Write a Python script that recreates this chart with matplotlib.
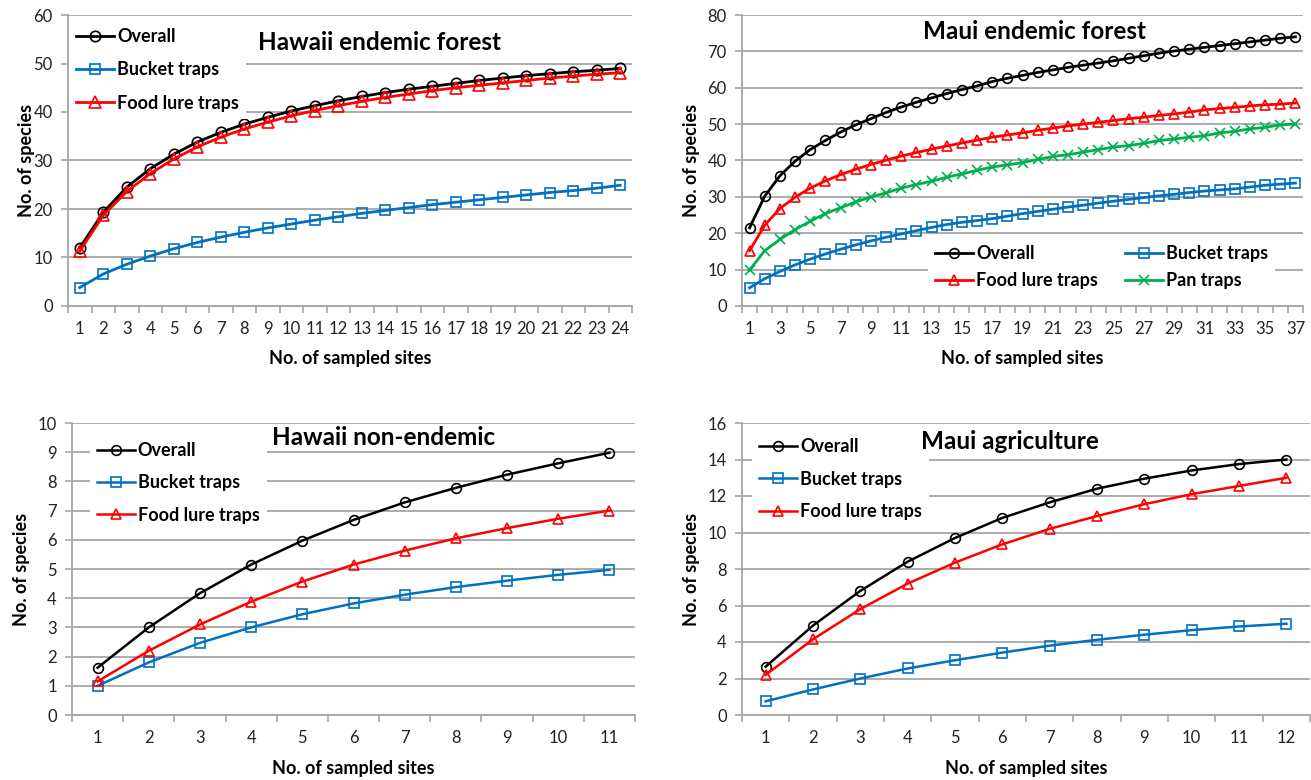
import matplotlib
matplotlib.use("Agg")
import matplotlib.pyplot as plt
import numpy as np

plt.rcParams['font.family'] = ['Lato', 'DejaVu Sans']

# ---------------- data ----------------
# Panel A: Hawaii endemic forest (24 sites)
hef_overall = [12.0, 19.3, 24.5, 28.3, 31.3, 33.8, 35.8, 37.5, 38.9, 40.2, 41.3, 42.3,
               43.2, 44.0, 44.7, 45.3, 45.9, 46.5, 47.0, 47.5, 47.9, 48.3, 48.6, 49.0]
hef_bucket = [3.8, 6.6, 8.6, 10.3, 11.8, 13.1, 14.2, 15.2, 16.1, 16.9, 17.7, 18.4,
              19.1, 19.7, 20.3, 20.9, 21.4, 21.9, 22.4, 22.9, 23.4, 23.8, 24.3, 24.9]
hef_food = [11.3, 18.7, 23.6, 27.3, 30.3, 32.8, 34.8, 36.5, 37.9, 39.2, 40.3, 41.3,
            42.2, 43.0, 43.7, 44.4, 45.0, 45.5, 46.0, 46.5, 47.0, 47.4, 47.8, 48.1]

# Panel B: Maui endemic forest (37 sites)
mef_overall = [21.5, 30.2, 35.8, 39.8, 43.0, 45.5, 47.8, 49.8, 51.5, 53.2, 54.7, 56.0,
               57.2, 58.4, 59.5, 60.5, 61.7, 62.6, 63.4, 64.2, 64.9, 65.6, 66.2, 66.8,
               67.4, 68.1, 68.8, 69.5, 70.1, 70.6, 71.1, 71.6, 72.1, 72.6, 73.1, 73.6, 74.0]
mef_food = [15.2, 22.2, 26.8, 29.9, 32.4, 34.4, 36.1, 37.6, 38.9, 40.1, 41.2, 42.2,
            43.1, 44.0, 44.8, 45.6, 46.4, 47.0, 47.6, 48.3, 48.9, 49.5, 50.0, 50.5,
            51.0, 51.5, 51.9, 52.4, 52.8, 53.3, 53.9, 54.3, 54.6, 55.0, 55.3, 55.5, 55.8]
mef_bucket = [5.0, 7.5, 9.5, 11.3, 12.9, 14.3, 15.6, 16.8, 17.9, 18.9, 19.8, 20.7,
              21.6, 22.4, 23.0, 23.5, 24.0, 24.7, 25.4, 26.0, 26.6, 27.2, 27.7, 28.3,
              28.8, 29.3, 29.8, 30.3, 30.7, 31.2, 31.6, 31.9, 32.2, 32.7, 33.2, 33.5, 33.8]
mef_pan = [9.9, 15.2, 18.3, 21.0, 23.3, 25.4, 27.0, 28.6, 30.0, 31.1, 32.4, 33.4,
           34.3, 35.4, 36.3, 37.3, 38.2, 38.8, 39.4, 40.3, 41.1, 41.6, 42.3, 43.0,
           43.7, 44.1, 44.7, 45.5, 45.9, 46.4, 46.8, 47.6, 48.0, 48.7, 49.1, 49.8, 50.0]

# Panel C: Hawaii non-endemic (11 sites)
hne_overall = [1.62, 3.0, 4.17, 5.15, 5.97, 6.68, 7.28, 7.78, 8.23, 8.62, 8.98]
hne_bucket = [1.0, 1.8, 2.47, 3.0, 3.45, 3.82, 4.12, 4.38, 4.6, 4.8, 4.97]
hne_food = [1.15, 2.2, 3.1, 3.88, 4.57, 5.15, 5.63, 6.05, 6.4, 6.72, 7.0]

# Panel D: Maui agriculture (12 sites)
mag_overall = [2.65, 4.9, 6.8, 8.4, 9.7, 10.8, 11.65, 12.4, 12.95, 13.4, 13.75, 14.0]
mag_bucket = [0.75, 1.4, 2.0, 2.55, 3.0, 3.42, 3.8, 4.12, 4.4, 4.65, 4.85, 5.0]
mag_food = [2.2, 4.15, 5.8, 7.2, 8.35, 9.35, 10.2, 10.9, 11.55, 12.1, 12.55, 13.0]

titles = ["Hawaii endemic forest", "Maui endemic forest", "Hawaii non-endemic", "Maui agriculture"]
series_names = ["Overall", "Bucket traps", "Food lure traps", "Pan traps"]
x_label = "No. of sampled sites"
y_label = "No. of species"

# ---------------- styling ----------------
C_BLACK = "#000000"
C_BLUE = "#0070C0"
C_RED = "#FF0000"
C_GREEN = "#00B050"
GRID = "#A6A6A6"
LEG_FS = 13

W, H = 1311, 780
fig = plt.figure(figsize=(W / 100, H / 100), dpi=100)


def px_axes(x0, y0, x1, y1):
    return fig.add_axes([x0 / W, 1 - y1 / H, (x1 - x0) / W, (y1 - y0) / H])


def style_axes(ax, n, ymax, ystep, xlabel_step, ylab_x, xlab_y):
    ax.set_xlim(0.5, n + 0.5)
    ax.set_ylim(0, ymax)
    ax.set_yticks(np.arange(0, ymax + ystep / 2, ystep))
    ax.yaxis.grid(True, color=GRID, linewidth=1.3)
    ax.set_axisbelow(True)
    for s in ["top", "right"]:
        ax.spines[s].set_visible(False)
    for s in ["left", "bottom"]:
        ax.spines[s].set_color(GRID)
        ax.spines[s].set_linewidth(1.3)
    labels = np.arange(1, n + 1, xlabel_step)
    ax.set_xticks(labels)
    ax.set_xticklabels([str(v) for v in labels])
    ax.set_xticks(np.arange(0.5, n + 1, 1.0), minor=True)
    ax.tick_params(axis="x", which="major", length=0, labelsize=12, pad=11, colors="#222222")
    ax.tick_params(axis="x", which="minor", length=5, width=1.2, color=GRID, direction="out")
    ax.tick_params(axis="y", which="major", length=5, width=1.2, color=GRID, labelsize=12,
                   labelcolor="#222222", pad=6)
    ax.set_xlabel(x_label, fontsize=13, fontweight="bold")
    ax.set_ylabel(y_label, fontsize=13, fontweight="bold")
    ax.xaxis.set_label_coords(0.5, xlab_y)
    ax.yaxis.set_label_coords(ylab_x, 0.5)


def plot_series(ax, y, color, marker, ms, lw, label):
    x = np.arange(1, len(y) + 1)
    ax.plot(x, y, color=color, lw=lw, marker=marker, ms=ms, mfc="none", mec=color,
            mew=1.2, label=label, clip_on=False)


def add_title(ax, x, y, text):
    ax.text(x, y, text, transform=ax.transAxes, ha="center", va="center",
            fontsize=17.5, fontweight="bold", zorder=20)


def add_legend(ax, x0, y0, ncol=1, labelspacing=0.88):
    leg = ax.legend(loc="upper left", bbox_to_anchor=(x0, y0), ncol=ncol, frameon=True,
                    fancybox=False, framealpha=1, facecolor="white", edgecolor="none",
                    prop={"size": LEG_FS, "weight": "bold"}, handlelength=2.1,
                    handletextpad=0.15, labelspacing=labelspacing, borderpad=0.4,
                    borderaxespad=0, columnspacing=1.5)
    leg.set_zorder(5)
    return leg


# Panel A
axA = px_axes(68, 15, 632, 306)
style_axes(axA, len(hef_overall), 60, 10, 1, -0.058, -0.151)
plot_series(axA, hef_overall, C_BLACK, "o", 7.5, 2.0, series_names[0])
plot_series(axA, hef_bucket, C_BLUE, "s", 7.5, 2.0, series_names[1])
plot_series(axA, hef_food, C_RED, "^", 8, 2.0, series_names[2])
add_title(axA, 0.553, 0.907, titles[0])
add_legend(axA, 0.002, 0.98, labelspacing=0.9)

# Panel B
axB = px_axes(742, 15, 1303, 306)
style_axes(axB, len(mef_overall), 80, 10, 2, -0.075, -0.151)
plot_series(axB, mef_overall, C_BLACK, "o", 7, 2.0, series_names[0])
plot_series(axB, mef_food, C_RED, "^", 7.5, 2.0, series_names[2])
plot_series(axB, mef_bucket, C_BLUE, "s", 7, 2.0, series_names[1])
plot_series(axB, mef_pan, C_GREEN, "x", 7, 2.0, series_names[3])
add_title(axB, 0.522, 0.945, titles[1])
add_legend(axB, 0.332, 0.233, ncol=2, labelspacing=0.55)

# Panel C
axC = px_axes(72, 423, 635, 715)
style_axes(axC, len(hne_overall), 10, 1, 1, -0.075, -0.154)
plot_series(axC, hne_overall, C_BLACK, "o", 7, 1.8, series_names[0])
plot_series(axC, hne_bucket, C_BLUE, "s", 7, 1.8, series_names[1])
plot_series(axC, hne_food, C_RED, "^", 7.5, 1.8, series_names[2])
add_title(axC, 0.554, 0.952, titles[2])
add_legend(axC, 0.032, 0.96, labelspacing=0.85)

# Panel D
axD = px_axes(742, 423, 1310, 715)
style_axes(axD, len(mag_overall), 16, 2, 1, -0.074, -0.154)
plot_series(axD, mag_overall, C_BLACK, "o", 7, 1.8, series_names[0])
plot_series(axD, mag_bucket, C_BLUE, "s", 7, 1.8, series_names[1])
plot_series(axD, mag_food, C_RED, "^", 7.5, 1.8, series_names[2])
add_title(axD, 0.472, 0.935, titles[3])
add_legend(axD, 0.018, 0.972, labelspacing=0.85)

fig.savefig("out.png", dpi=100, facecolor="white")
